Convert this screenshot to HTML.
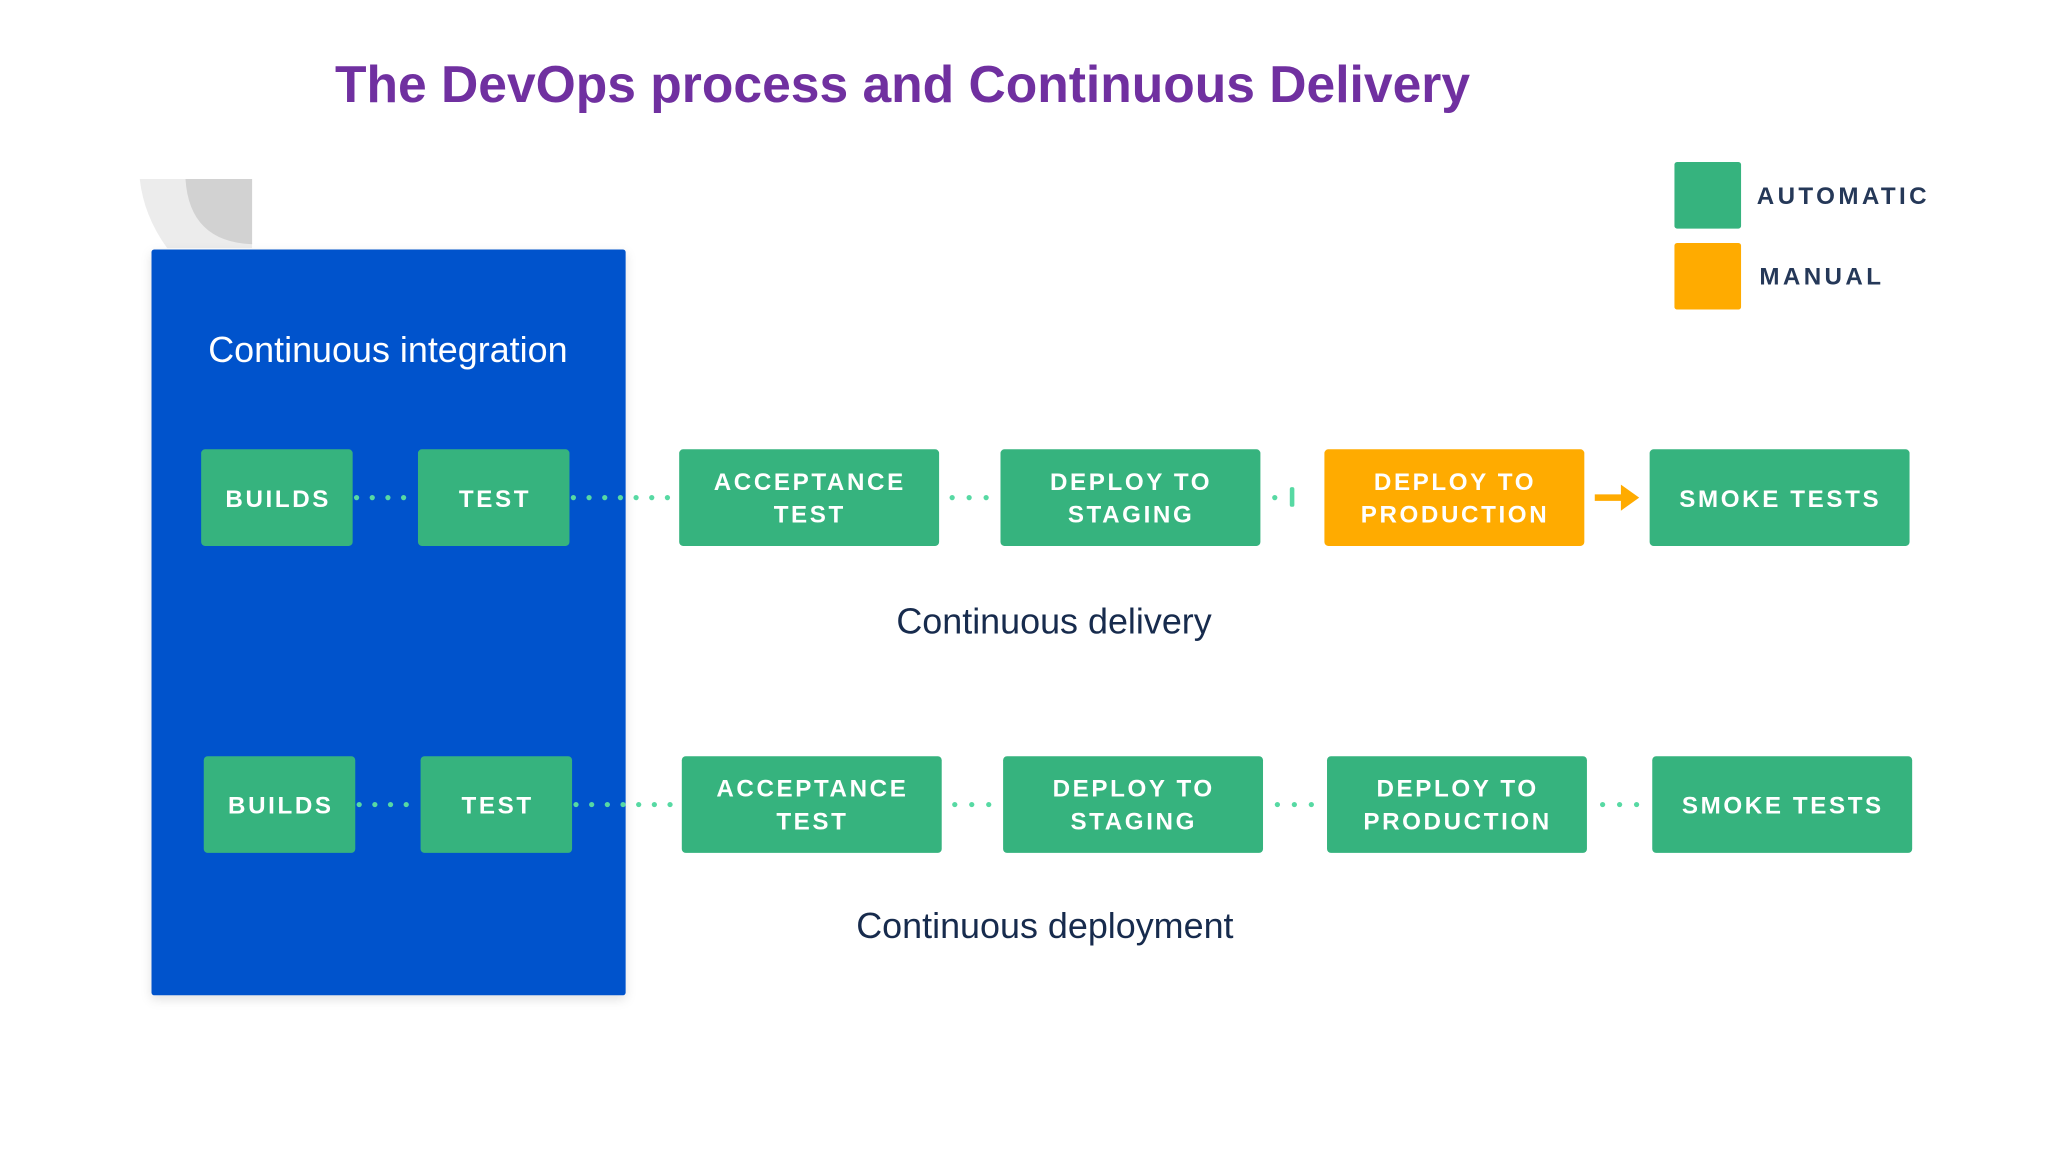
<!DOCTYPE html>
<html><head><meta charset="utf-8"><style>
html,body{margin:0;padding:0;background:#fff;}
svg{display:block;}
.b{font-family:"Liberation Sans",sans-serif;font-weight:bold;fill:#fff;font-size:18.5px;letter-spacing:2px;text-anchor:middle;}
.l{font-family:"Liberation Sans",sans-serif;font-size:27.5px;text-anchor:middle;}
</style></head><body>
<svg width="2048" height="1152" viewBox="0 0 1568 882" preserveAspectRatio="none" xmlns="http://www.w3.org/2000/svg">
<defs>
<filter id="sh" x="-10%" y="-10%" width="120%" height="120%"><feDropShadow dx="0" dy="3" stdDeviation="4" flood-color="#000" flood-opacity="0.12"/></filter>
</defs>
<text x="691" y="78" font-family="Liberation Sans,sans-serif" font-weight="bold" font-size="39.5" fill="#7030a0" text-anchor="middle">The DevOps process and Continuous Delivery</text>
<path d="M107 137 H193 V190 H128 Q110 165 107 137 Z" fill="#ececec"/>
<path d="M142 137 H193 V187 Q145 185 142 137 Z" fill="#d2d2d2"/>
<rect x="116" y="191" width="363" height="571" rx="2" fill="#0052cc" filter="url(#sh)"/>
<text x="297" y="277" class="l" fill="#fff">Continuous integration</text>
<g fill="#57d9a3">
<circle cx="273" cy="381" r="2"/><circle cx="285" cy="381" r="2"/><circle cx="297" cy="381" r="2"/><circle cx="309" cy="381" r="2"/>
<circle cx="439" cy="381" r="2"/><circle cx="451" cy="381" r="2"/><circle cx="463" cy="381" r="2"/><circle cx="475" cy="381" r="2"/><circle cx="487" cy="381" r="2"/><circle cx="499" cy="381" r="2"/><circle cx="511" cy="381" r="2"/>
<circle cx="729" cy="381" r="2"/><circle cx="742" cy="381" r="2"/><circle cx="755" cy="381" r="2"/>
<circle cx="976" cy="381" r="2"/><rect x="987.5" y="373" width="3.5" height="15" rx="1.5"/>
<circle cx="275" cy="616" r="2"/><circle cx="287" cy="616" r="2"/><circle cx="299" cy="616" r="2"/><circle cx="311" cy="616" r="2"/>
<circle cx="441" cy="616" r="2"/><circle cx="453" cy="616" r="2"/><circle cx="465" cy="616" r="2"/><circle cx="477" cy="616" r="2"/><circle cx="489" cy="616" r="2"/><circle cx="501" cy="616" r="2"/><circle cx="513" cy="616" r="2"/>
<circle cx="731" cy="616" r="2"/><circle cx="744" cy="616" r="2"/><circle cx="757" cy="616" r="2"/>
<circle cx="978" cy="616" r="2"/><circle cx="991" cy="616" r="2"/><circle cx="1004" cy="616" r="2"/>
<circle cx="1227" cy="616" r="2"/><circle cx="1240" cy="616" r="2"/><circle cx="1253" cy="616" r="2"/>
</g>
<path d="M1221 378.5 H1241 V371 L1255 381 L1241 391 V383.5 H1221 Z" fill="#ffab00"/>
<g>
<rect x="154" y="344" width="116" height="74" rx="3" fill="#36b37e"/>
<rect x="320" y="344" width="116" height="74" rx="3" fill="#36b37e"/>
<rect x="520" y="344" width="199" height="74" rx="3" fill="#36b37e"/>
<rect x="766" y="344" width="199" height="74" rx="3" fill="#36b37e"/>
<rect x="1014" y="344" width="199" height="74" rx="3" fill="#ffab00"/>
<rect x="1263" y="344" width="199" height="74" rx="3" fill="#36b37e"/>
<rect x="156" y="579" width="116" height="74" rx="3" fill="#36b37e"/>
<rect x="322" y="579" width="116" height="74" rx="3" fill="#36b37e"/>
<rect x="522" y="579" width="199" height="74" rx="3" fill="#36b37e"/>
<rect x="768" y="579" width="199" height="74" rx="3" fill="#36b37e"/>
<rect x="1016" y="579" width="199" height="74" rx="3" fill="#36b37e"/>
<rect x="1265" y="579" width="199" height="74" rx="3" fill="#36b37e"/>
</g>
<text class="b" x="213" y="388">BUILDS</text>
<text class="b" x="379" y="388">TEST</text>
<text class="b" x="620" y="375">ACCEPTANCE</text><text class="b" x="620" y="400">TEST</text>
<text class="b" x="866" y="375">DEPLOY TO</text><text class="b" x="866" y="400">STAGING</text>
<text class="b" x="1114" y="375">DEPLOY TO</text><text class="b" x="1114" y="400">PRODUCTION</text>
<text class="b" x="1363" y="388">SMOKE TESTS</text>
<text class="b" x="215" y="623">BUILDS</text>
<text class="b" x="381" y="623">TEST</text>
<text class="b" x="622" y="610">ACCEPTANCE</text><text class="b" x="622" y="635">TEST</text>
<text class="b" x="868" y="610">DEPLOY TO</text><text class="b" x="868" y="635">STAGING</text>
<text class="b" x="1116" y="610">DEPLOY TO</text><text class="b" x="1116" y="635">PRODUCTION</text>
<text class="b" x="1365" y="623">SMOKE TESTS</text>
<text x="807" y="485" class="l" fill="#172b4d">Continuous delivery</text>
<text x="800" y="718" class="l" fill="#172b4d">Continuous deployment</text>
<rect x="1282" y="124" width="51" height="51" rx="2" fill="#36b37e"/>
<rect x="1282" y="186" width="51" height="51" rx="2" fill="#ffab00"/>
<text x="1345" y="156" font-family="Liberation Sans,sans-serif" font-weight="bold" font-size="18.5" letter-spacing="2.6" fill="#253858">AUTOMATIC</text>
<text x="1347" y="218" font-family="Liberation Sans,sans-serif" font-weight="bold" font-size="18.5" letter-spacing="2.6" fill="#253858">MANUAL</text>
</svg>
</body></html>
